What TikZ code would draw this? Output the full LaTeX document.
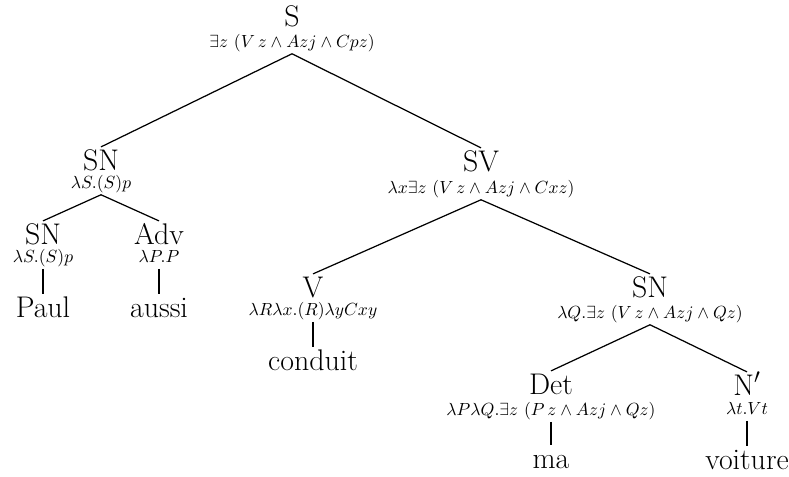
\documentclass[tikz,border=0pt]{standalone}
\usepackage{amsmath}
\usepackage{amssymb}
\usepackage{tikz}

\tikzset{
  cat/.style={font=\fontsize{17}{20}\selectfont, inner sep=1pt, anchor=base, text height=11.8pt},
  sem/.style={font=\fontsize{10}{12}\selectfont, inner sep=1pt, anchor=base, text depth=2.5pt},
  word/.style={font=\fontsize{17}{20}\selectfont, inner sep=1pt, anchor=base, text height=11.8pt},
}

\begin{document}
\begin{tikzpicture}[x=0.02cm, y=-0.02cm, line width=0.7pt]
    \useasboundingbox (0,0) rectangle (789,477);

    % root
    \node[cat] (S) at (292,26) {S};
    \node[sem] (Ssem) at (292,47) {$\exists z\ (V\,z \wedge Azj \wedge Cpz)$};

    % subject
    \node[cat] (SNa) at (101,170) {SN};
    \node[sem] (SNasem) at (101,188) {$\lambda S.(S)p$};
    \node[cat] (SNb) at (43,244) {SN};
    \node[sem] (SNbsem) at (43,262) {$\lambda S.(S)p$};
    \node[word] (Paul) at (43,317) {Paul};
    \node[cat] (Adv) at (159,244) {Adv};
    \node[sem] (Advsem) at (159,262) {$\lambda P.P$};
    \node[word] (aussi) at (159,317) {aussi};

    % verb phrase
    \node[cat] (SV) at (481,171) {SV};
    \node[sem] (SVsem) at (481,193) {$\lambda x\exists z\ (V\,z \wedge Azj \wedge Cxz)$};
    \node[cat] (V) at (313,297) {V};
    \node[sem] (Vsem) at (313,315) {$\lambda R\lambda x.(R)\lambda yCxy$};
    \node[word] (conduit) at (313,370) {conduit};
    \node[cat] (SNc) at (650,297) {SN};
    \node[sem] (SNcsem) at (650,318) {$\lambda Q.\exists z\ (V\,z \wedge Azj \wedge Qz)$};
    \node[cat] (Det) at (551,394) {Det};
    \node[sem] (Detsem) at (551,415) {$\lambda P\lambda Q.\exists z\ (P\,z \wedge Azj \wedge Qz)$};
    \node[word] (ma) at (551,468) {ma};
    \node[cat] (N) at (747,395) {N$'$};
    \node[sem] (Nsem) at (747,414) {$\lambda t.Vt$};
    \node[word] (voiture) at (747,469) {voiture};

    \draw (Ssem.south) -- (SNa.north);
    \draw (Ssem.south) -- (SV.north);
    \draw (SNasem.south) -- (SNb.north);
    \draw (SNasem.south) -- (Adv.north);
    \draw (SNbsem.south) -- (Paul.north);
    \draw (Advsem.south) -- (aussi.north);
    \draw (SVsem.south) -- (V.north);
    \draw (SVsem.south) -- (SNc.north);
    \draw (Vsem.south) -- (conduit.north);
    \draw (SNcsem.south) -- (Det.north);
    \draw (SNcsem.south) -- (N.north);
    \draw (Detsem.south) -- (ma.north);
    \draw (Nsem.south) -- (voiture.north);
\end{tikzpicture}
\end{document}
